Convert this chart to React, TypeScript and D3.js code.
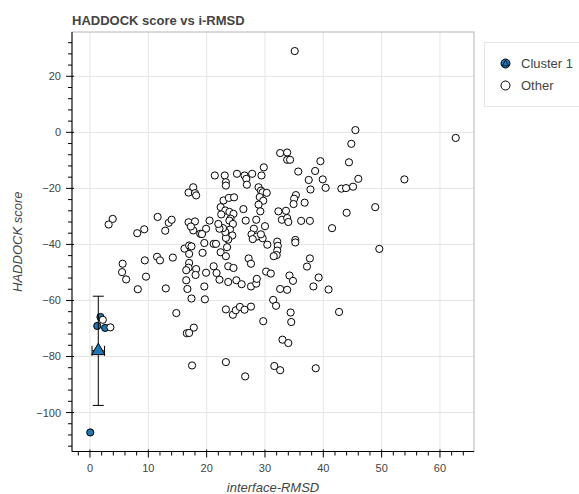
import React from "react";
import * as d3 from "d3";

// cluster 1 members (i-RMSD, HADDOCK score)
const clusterRmsd = [0.05, 1.25, 1.8, 2.6];
const clusterScore = [-107.1, -69.1, -65.9, -69.8];

// every other model, [i-RMSD, HADDOCK score]
const otherModels: [number, number][] = [
  [3.2, -32.9], [3.9, -30.9], [5.6, -46.9], [5.5, -49.9], [6.2, -52.5], [8.2, -56.0], [8.1, -36.0],
  [2.2, -66.9], [3.5, -69.6],
  [9.3, -34.6], [9.4, -45.7], [9.6, -51.5], [11.6, -30.2], [12.9, -35.1], [13.5, -32.3], [14.0, -31.2],
  [11.5, -44.4], [12.0, -45.7], [14.2, -44.7], [13.0, -55.7], [14.8, -64.5],
  [16.9, -32.1], [18.0, -31.8], [17.7, -35.0], [17.3, -33.6],
  [16.9, -21.5], [17.7, -19.6], [18.0, -21.7], [18.2, -22.5], [18.9, -36.2],
  [16.2, -41.5], [17.0, -40.4], [17.4, -40.7], [17.0, -43.4], [17.0, -46.6], [16.9, -48.3], [18.2, -48.8],
  [16.5, -49.2], [18.1, -50.9], [16.5, -52.8], [16.7, -55.9], [17.4, -59.3],
  [19.9, -50.1], [19.6, -55.0], [19.7, -59.6],
  [20.5, -31.5], [19.9, -34.4], [19.2, -36.3], [19.6, -39.5], [19.3, -43.0],
  [17.8, -69.7], [16.6, -71.7], [17.0, -71.6], [17.5, -83.2],
  [21.4, -15.4], [23.1, -15.4], [23.3, -17.8], [23.3, -19.0], [25.2, -14.8], [26.5, -15.4], [26.8, -16.6],
  [26.9, -18.7], [27.8, -14.8], [29.4, -15.4], [29.8, -12.5],
  [28.9, -19.6], [29.3, -20.8], [29.6, -21.4], [30.3, -21.6], [29.1, -23.1], [29.7, -24.4], [28.9, -25.8],
  [29.2, -28.2], [26.3, -27.4],
  [22.9, -24.3], [23.8, -23.4], [24.7, -23.2],
  [22.4, -26.7], [23.2, -27.9], [23.9, -28.4], [24.6, -29.1], [22.5, -29.3],
  [24.1, -30.8], [23.9, -31.5], [24.5, -32.7], [24.0, -34.7], [24.4, -36.8], [23.7, -38.3], [23.3, -37.7],
  [23.2, -35.6], [22.8, -34.2], [22.2, -34.4], [22.0, -32.7], [23.5, -41.0], [22.4, -42.8], [23.3, -44.2],
  [21.2, -39.8], [21.6, -39.8],
  [28.5, -31.2], [26.7, -31.5], [30.0, -33.5], [28.1, -34.4], [27.7, -36.4], [28.6, -37.2], [27.9, -38.1],
  [29.6, -37.8], [29.3, -36.4], [30.4, -40.1],
  [32.3, -28.2], [33.6, -28.0], [32.9, -31.2], [33.8, -30.6], [34.0, -32.0],
  [32.1, -39.0], [32.2, -40.5], [32.1, -42.2], [32.0, -43.8], [31.5, -44.2],
  [27.2, -45.0], [27.6, -46.9], [21.2, -47.8], [23.7, -47.8], [24.6, -48.4],
  [21.7, -50.2], [22.2, -52.6], [23.7, -53.4], [25.1, -52.8], [26.0, -54.2], [27.6, -55.0], [28.5, -54.0],
  [28.6, -52.3], [30.2, -49.7], [31.0, -50.4],
  [23.3, -63.2], [24.5, -65.1], [25.0, -63.5], [25.7, -62.3], [26.5, -63.3], [27.6, -62.2], [29.7, -67.4],
  [31.4, -59.8], [31.9, -61.9],
  [23.3, -82.0], [26.6, -87.1], [31.6, -83.4], [32.6, -84.9],
  [35.1, 29.0], [45.5, 0.8], [44.8, -4.1], [62.7, -2.0],
  [32.6, -7.4], [33.8, -7.2], [33.8, -9.8], [34.3, -9.8], [39.5, -10.3], [44.4, -10.7],
  [35.7, -14.0], [38.6, -13.8], [37.5, -17.0], [39.9, -16.8], [46.0, -16.6], [53.9, -16.8],
  [37.8, -20.4], [40.4, -19.8], [43.1, -20.1], [43.9, -19.9], [45.1, -19.4],
  [35.3, -22.4], [35.0, -23.7], [34.9, -25.6], [36.8, -25.1], [36.2, -31.6], [37.7, -31.6],
  [48.9, -26.7], [44.0, -28.7], [41.5, -34.2], [49.6, -41.6], [35.2, -38.4], [35.2, -39.3],
  [37.7, -45.0], [37.2, -47.9], [34.2, -51.1], [34.8, -53.0], [39.2, -51.8], [38.3, -55.0], [40.9, -56.1],
  [32.6, -55.9], [33.8, -56.2], [34.4, -64.3], [34.5, -67.7], [42.7, -64.1],
  [33.0, -74.0], [34.0, -75.2], [38.7, -84.2],
];

const xTicks = [0, 10, 20, 30, 40, 50, 60];
const yTicks = [-100, -80, -60, -40, -20, 0, 20];
const legendLabels = ["Cluster 1", "Other"];

const W = 579;
const H = 494;
const frame = { left: 72, right: 474, top: 32, bottom: 451.5 };
const blue = "#1f77b4";
const textColor = "#444";
const font = "'Liberation Sans', Arial, Helvetica, sans-serif";

function padded(values: number[]): [number, number] {
  const [lo, hi] = d3.extent(values) as [number, number];
  const pad = (hi - lo) * 0.05;
  return [lo - pad, hi + pad];
}

export default function App() {
  const allX = clusterRmsd.concat(otherModels.map((d) => d[0]));
  const allY = clusterScore.concat(otherModels.map((d) => d[1]));

  const x = d3.scaleLinear().domain(padded(allX)).range([frame.left, frame.right]);
  const y = d3.scaleLinear().domain(padded(allY)).range([frame.bottom, frame.top]);

  const fmt = d3.format("d");
  const [x0, x1] = x.domain();
  const [y0, y1] = y.domain();
  const xMinor = d3.range(Math.ceil(x0 / 2) * 2, x1, 2).filter((v) => v % 10 !== 0);
  const yMinor = d3.range(Math.ceil(y0 / 4) * 4, y1, 4).filter((v) => v % 20 !== 0);

  // cluster summary: mean with sample standard deviation
  const mx = d3.mean(clusterRmsd) as number;
  const my = d3.mean(clusterScore) as number;
  const sx = d3.deviation(clusterRmsd) as number;
  const sy = d3.deviation(clusterScore) as number;

  const triangle = d3.symbol(d3.symbolTriangle, 75)() as string;
  const smallTriangle = d3.symbol(d3.symbolTriangle, 18)() as string;

  return (
    <svg width={W} height={H} style={{ position: "absolute", left: 0, top: 0, background: "#fff" }}>
      <defs>
        <clipPath id="plot-clip">
          <rect x={frame.left} y={frame.top} width={frame.right - frame.left} height={frame.bottom - frame.top} />
        </clipPath>
      </defs>

      <text x={frame.left} y={24.5} fontFamily={font} fontSize={13} fontWeight="bold" fill={textColor}>
        HADDOCK score vs i-RMSD
      </text>

      {/* grid */}
      {xTicks.map((t) => (
        <line key={"gx" + t} x1={x(t)} x2={x(t)} y1={frame.top} y2={frame.bottom} stroke="#e5e5e5" />
      ))}
      {yTicks.map((t) => (
        <line key={"gy" + t} x1={frame.left} x2={frame.right} y1={y(t)} y2={y(t)} stroke="#e5e5e5" />
      ))}
      <rect
        x={frame.left}
        y={frame.top}
        width={frame.right - frame.left}
        height={frame.bottom - frame.top}
        fill="none"
        stroke="#b5b5b5"
      />

      <g clipPath="url(#plot-clip)">
        {clusterRmsd.map((r, i) => (
          <circle key={"c" + i} cx={x(r)} cy={y(clusterScore[i])} r={3.6} fill={blue} stroke="#000" />
        ))}
        {otherModels.map((d, i) => (
          <circle key={"o" + i} cx={x(d[0])} cy={y(d[1])} r={3.6} fill="#fff" stroke="#000" />
        ))}

        {/* error bars */}
        <g stroke="#000" strokeWidth={1}>
          <line x1={x(mx)} x2={x(mx)} y1={y(my + sy)} y2={y(my - sy)} />
          <line x1={x(mx) - 5.5} x2={x(mx) + 5.5} y1={y(my + sy)} y2={y(my + sy)} />
          <line x1={x(mx) - 5.5} x2={x(mx) + 5.5} y1={y(my - sy)} y2={y(my - sy)} />
          <line x1={x(mx - sx)} x2={x(mx + sx)} y1={y(my)} y2={y(my)} />
          <line x1={x(mx - sx)} x2={x(mx - sx)} y1={y(my) - 5} y2={y(my) + 5} />
          <line x1={x(mx + sx)} x2={x(mx + sx)} y1={y(my) - 5} y2={y(my) + 5} />
        </g>
        <path d={triangle} transform={`translate(${x(mx)},${y(my)})`} fill={blue} stroke="#000" />
      </g>

      {/* x axis */}
      <g fontFamily={font} fontSize={11} fill={textColor}>
        <line x1={frame.left} x2={frame.right} y1={frame.bottom} y2={frame.bottom} stroke="#000" />
        {xTicks.map((t) => (
          <g key={"xt" + t}>
            <line x1={x(t)} x2={x(t)} y1={frame.bottom - 2} y2={frame.bottom + 6} stroke="#000" />
            <text x={x(t)} y={471.5} textAnchor="middle">
              {fmt(t)}
            </text>
          </g>
        ))}
        {xMinor.map((t) => (
          <line key={"xm" + t} x1={x(t)} x2={x(t)} y1={frame.bottom} y2={frame.bottom + 4} stroke="#000" />
        ))}
      </g>
      <text
        x={(frame.left + frame.right) / 2}
        y={492}
        textAnchor="middle"
        fontFamily={font}
        fontSize={13}
        fontStyle="italic"
        fill={textColor}
      >
        interface-RMSD
      </text>

      {/* y axis */}
      <g fontFamily={font} fontSize={11} fill={textColor}>
        <line x1={frame.left} x2={frame.left} y1={frame.top} y2={frame.bottom} stroke="#000" />
        {yTicks.map((t) => (
          <g key={"yt" + t}>
            <line x1={frame.left - 6} x2={frame.left + 2} y1={y(t)} y2={y(t)} stroke="#000" />
            <text x={frame.left - 11} y={y(t) + 4} textAnchor="end">
              {fmt(t)}
            </text>
          </g>
        ))}
        {yMinor.map((t) => (
          <line key={"ym" + t} x1={frame.left - 4} x2={frame.left} y1={y(t)} y2={y(t)} stroke="#000" />
        ))}
      </g>
      <text
        transform={`translate(22,${(frame.top + frame.bottom) / 2}) rotate(-90)`}
        textAnchor="middle"
        fontFamily={font}
        fontSize={13}
        fontStyle="italic"
        fill={textColor}
      >
        HADDOCK score
      </text>

      {/* legend */}
      <g fontFamily={font} fontSize={13} fill={textColor}>
        <rect x={484.5} y={42.5} width={110} height={64} fill="#fff" stroke="#e5e5e5" />
        <circle cx={505.5} cy={63.5} r={4.5} fill={blue} stroke="#000" />
        <path d={smallTriangle} transform="translate(505.5,64)" fill={blue} stroke="#000" strokeWidth={0.8} />
        <text x={521} y={68}>
          {legendLabels[0]}
        </text>
        <circle cx={505.5} cy={85.5} r={4.5} fill="#fff" stroke="#000" />
        <text x={521} y={90}>
          {legendLabels[1]}
        </text>
      </g>
    </svg>
  );
}
